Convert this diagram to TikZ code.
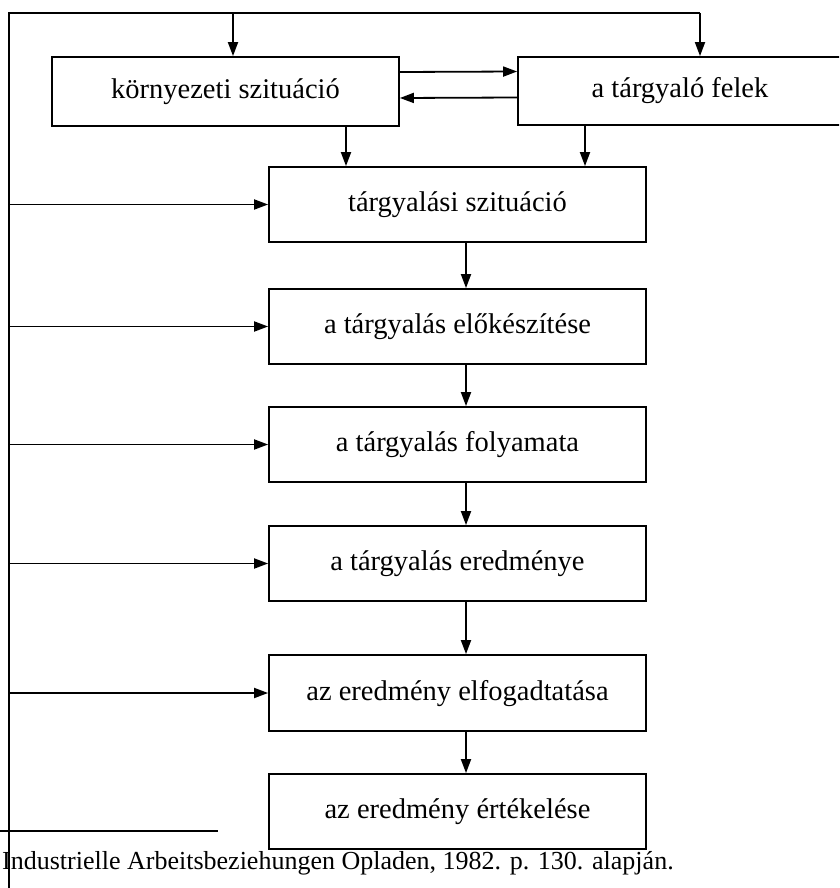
\documentclass[tikz,border=0pt]{standalone}
\usepackage{fontspec}
\setmainfont{Liberation Serif}
\usetikzlibrary{arrows.meta}

\tikzset{
  stagebox/.style={draw, line width=1.8pt, inner sep=0pt, align=center,
    text height=22pt, text depth=8pt,
    font=\fontsize{28.5}{34}\selectfont},
  link/.style={line width=1.8pt},
  arr/.style={line width=1.8pt, -{Triangle[length=14pt,width=10pt]}},
}

\begin{document}
\begin{tikzpicture}[x=1pt,y=-1pt]
  \useasboundingbox (0,0) rectangle (839,888);
  \clip (0,0) rectangle (839,888);

  % top row
  \node[stagebox, minimum width=347pt, minimum height=69pt] (env) at (225.5,91.5) {környezeti szituáció};
  \node[stagebox, minimum width=324pt, minimum height=68pt] (parties) at (680,91) {a tárgyaló felek};

  % main column
  \node[stagebox, minimum width=377pt, minimum height=75pt] (b1) at (457.5,204.5) {tárgyalási szituáció};
  \node[stagebox, minimum width=377pt, minimum height=75pt] (b2) at (457.5,326.5) {a tárgyalás előkészítése};
  \node[stagebox, minimum width=377pt, minimum height=75pt] (b3) at (457.5,444.5) {a tárgyalás folyamata};
  \node[stagebox, minimum width=377pt, minimum height=75pt] (b4) at (457.5,563.5) {a tárgyalás eredménye};
  \node[stagebox, minimum width=377pt, minimum height=76pt] (b5) at (457.5,693) {az eredmény elfogadtatása};
  \node[stagebox, minimum width=377pt, minimum height=75pt] (b6) at (457.5,811.5) {az eredmény értékelése};

  % feedback loop frame
  \coordinate (tl) at (9,13);
  \coordinate (bl) at (9,890);
  \coordinate (tr) at (700,13);
  \coordinate (ta) at (233,13);
  \draw[link] (bl) -- (tl) -- (tr);
  \draw[arr] (ta) -- (ta |- env.north);
  \draw[arr] (tr) -- (tr |- parties.north);

  % exchange between environment and parties
  \draw[arr] ([yshift=19.5pt]env.east) -- ([yshift=19.5pt]parties.west);
  \draw[arr] ([yshift=-6.5pt]parties.west) -- ([yshift=-6.5pt]env.east);

  % into the negotiation situation
  \draw[arr] ([xshift=120.5pt]env.south) -- ([xshift=120.5pt]env.south |- b1.north);
  \draw[arr] ([xshift=-95pt]parties.south) -- ([xshift=-95pt]parties.south |- b1.north);

  % sequence of stages
  \foreach \a/\b in {b1/b2,b2/b3,b3/b4,b4/b5,b5/b6}
    \draw[arr] ([xshift=8.5pt]\a.south) -- ([xshift=8.5pt]\b.north);

  % feedback arrows from the loop
  \foreach \n in {b1,b2,b3,b4,b5}
    \draw[arr] (\n.west -| tl) -- (\n.west);

  % source note
  \coordinate (rs) at (0,831);
  \coordinate (re) at (218,831);
  \draw[link] (rs) -- (re);
  \node[anchor=base west, inner sep=0pt, font=\fontsize{26}{31}\selectfont] (src) at (2,869)
    {Industrielle Arbeitsbeziehungen Opladen, 1982. p. 130. alapján.};
\end{tikzpicture}
\end{document}
